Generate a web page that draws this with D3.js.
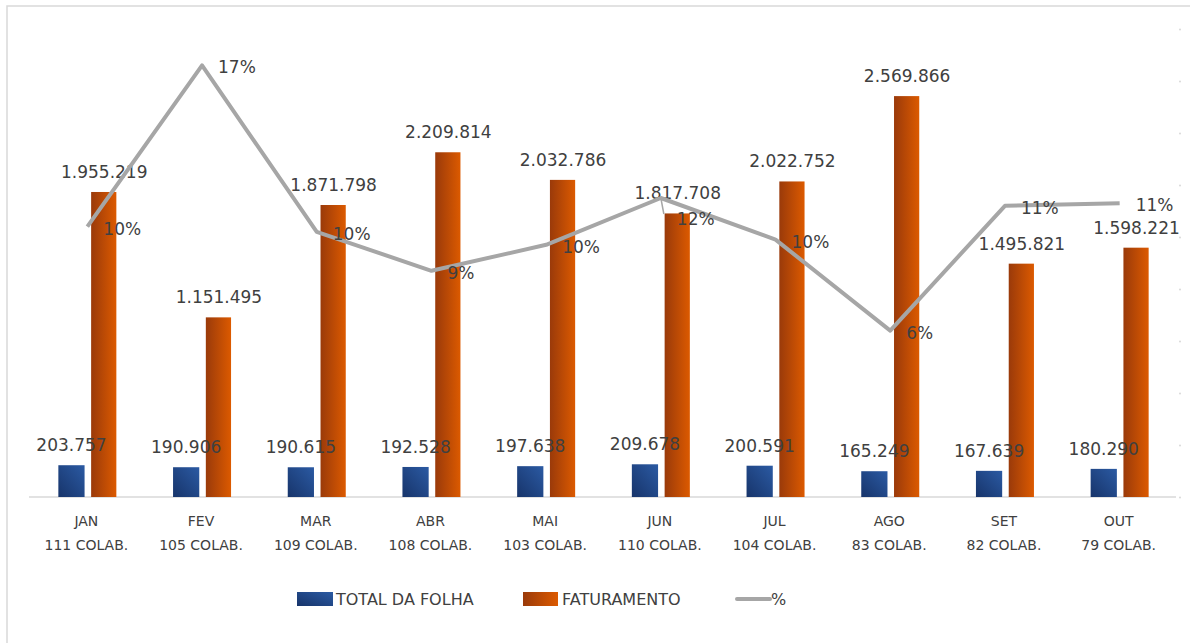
<!DOCTYPE html>
<html>
<head>
<meta charset="utf-8">
<script src="https://cdn.jsdelivr.net/npm/d3@7"></script>
<style>
  body { margin: 0; background: #fff; }
  text { font-family: "DejaVu Sans", sans-serif; fill: #404040; }
</style>
</head>
<body>
<main></main>
<script>
// dados do grafico
const meses = ["JAN", "FEV", "MAR", "ABR", "MAI", "JUN", "JUL", "AGO", "SET", "OUT"]
const colab = [111, 105, 109, 108, 103, 110, 104, 83, 82, 79]
const totalFolha = [203757, 190906, 190615, 192528, 197638, 209678, 200591, 165249, 167639, 180290]
const faturamento = [1955219, 1151495, 1871798, 2209814, 2032786, 1817708, 2022752, 2569866, 1495821, 1598221]
const pct = [0.104, 0.166, 0.102, 0.087, 0.097, 0.115, 0.099, 0.064, 0.112, 0.113]

const width = 1190
const height = 643
const baseY = 497, topY = 29

let svg = d3.select("main")
    .append("svg")
    .attr("width", width)
    .attr("height", height)

// moldura
svg.append("rect")
    .attr("x", 7).attr("y", 6)
    .attr("width", 1300).attr("height", 800)
    .attr("fill", "none")
    .attr("stroke", "#d9d9d9")
    .attr("stroke-width", 1.5)

let defs = svg.append("defs")
let gBlue = defs.append("linearGradient").attr("id", "gBlue")
    .attr("x1", "0").attr("y1", "1").attr("x2", "1").attr("y2", "0")
gBlue.append("stop").attr("offset", "0%").attr("stop-color", "#17346a")
gBlue.append("stop").attr("offset", "100%").attr("stop-color", "#2b5aa3")
let gOrange = defs.append("linearGradient").attr("id", "gOrange")
    .attr("x1", "0").attr("y1", "0").attr("x2", "1").attr("y2", "0")
gOrange.append("stop").attr("offset", "0%").attr("stop-color", "#9a3a0a")
gOrange.append("stop").attr("offset", "100%").attr("stop-color", "#dc5a00")

let x = d3.scaleBand()
    .domain(meses)
    .range([29, 1176])

let xSub = d3.scaleBand()
    .domain(["folha", "fat"])
    .range([0, 59])
    .paddingInner(0.2)

let y = d3.scaleLinear()
    .domain([0, 3000000])
    .range([baseY, topY])

let y2 = d3.scaleLinear()
    .domain([0, 0.18])
    .range([baseY, topY])

const cx = m => x(m) + x.bandwidth() / 2

// ticks do eixo secundario (sem rotulos)
let ax2 = svg.append("g")
    .attr("transform", `translate(1180, 0)`)
    .call(d3.axisRight(y2).ticks(9).tickSize(0).tickFormat(""))
ax2.select(".domain").remove()
ax2.selectAll(".tick").append("circle")
    .attr("r", 1).attr("fill", "#d9d9d9")

// linha de base
svg.append("line")
    .attr("x1", 29).attr("x2", 1176)
    .attr("y1", baseY).attr("y2", baseY)
    .attr("stroke", "#d9d9d9")
    .attr("stroke-width", 1.5)

let rows = meses.map((m, i) => ({m, i, colab: colab[i], folha: totalFolha[i], fat: faturamento[i], pct: pct[i]}))

let groups = svg.append("g")
    .selectAll("g")
    .data(rows)
    .enter()
    .append("g")
    .attr("transform", d => `translate(${cx(d.m) - 28}, 0)`)

groups.append("rect")
    .attr("x", xSub("folha"))
    .attr("width", xSub.bandwidth())
    .attr("y", d => y(d.folha))
    .attr("height", d => baseY - y(d.folha))
    .attr("fill", "url(#gBlue)")

groups.append("rect")
    .attr("x", xSub("fat"))
    .attr("width", xSub.bandwidth() - 1)
    .attr("y", d => y(d.fat))
    .attr("height", d => baseY - y(d.fat))
    .attr("fill", "url(#gOrange)")

// linha %
let line = d3.line()
    .x(d => cx(d.m) + 1)
    .y(d => y2(d.pct))

svg.append("path")
    .datum(rows)
    .attr("d", line)
    .attr("fill", "none")
    .attr("stroke", "#a6a6a6")
    .attr("stroke-width", 4)
    .attr("stroke-linejoin", "round")

// rotulos de valores
groups.append("text")
    .attr("x", xSub("folha") + xSub.bandwidth() / 2)
    .attr("y", d => y(d.folha) - 14)
    .attr("text-anchor", "middle")
    .style("font-size", "17px")
    .text(d => d3.format(",")(d.folha).replace(/,/g, "."))

groups.append("text")
    .attr("x", xSub("fat") + xSub.bandwidth() / 2)
    .attr("y", d => y(d.fat) - 14)
    .attr("text-anchor", "middle")
    .style("font-size", "17px")
    .text(d => d3.format(",")(d.fat).replace(/,/g, "."))

// JUN tem o rotulo deslocado com linha guia
svg.append("line")
    .attr("x1", cx("JUN") + 1).attr("y1", y2(pct[5]))
    .attr("x2", cx("JUN") + 4).attr("y2", y2(pct[5]) + 16)
    .attr("stroke", "#a6a6a6")
    .attr("stroke-width", 1.5)

svg.append("g")
    .selectAll("text")
    .data(rows)
    .enter()
    .append("text")
    .attr("x", d => cx(d.m) + 17)
    .attr("y", d => y2(d.pct) + 8 + (d.m == "JUN" ? 19 : 0))
    .style("font-size", "17px")
    .text(d => Math.round(d.pct * 100) + "%")

// eixo x
let xl = svg.append("g")
    .selectAll("text")
    .data(rows)
    .enter()
    .append("text")
    .attr("text-anchor", "middle")
    .style("font-size", "14px")
    .attr("x", d => cx(d.m))
xl.append("tspan").attr("x", d => cx(d.m)).attr("y", 526).text(d => d.m)
xl.append("tspan").attr("x", d => cx(d.m)).attr("y", 550).text(d => d.colab + " COLAB.")

// legenda
let legend = svg.append("g").attr("id", "legend")
legend.append("rect").attr("x", 297).attr("y", 592).attr("width", 36).attr("height", 14).attr("fill", "url(#gBlue)")
legend.append("text").attr("x", 336).attr("y", 605).style("font-size", "16px").text("TOTAL DA FOLHA")
legend.append("rect").attr("x", 523).attr("y", 592).attr("width", 35).attr("height", 14).attr("fill", "url(#gOrange)")
legend.append("text").attr("x", 562).attr("y", 605).style("font-size", "16px").text("FATURAMENTO")
legend.append("line").attr("x1", 737).attr("x2", 770).attr("y1", 599).attr("y2", 599)
    .attr("stroke", "#a6a6a6").attr("stroke-width", 4).attr("stroke-linecap", "round")
legend.append("text").attr("x", 771).attr("y", 605).style("font-size", "16px").text("%")
</script>
</body>
</html>
